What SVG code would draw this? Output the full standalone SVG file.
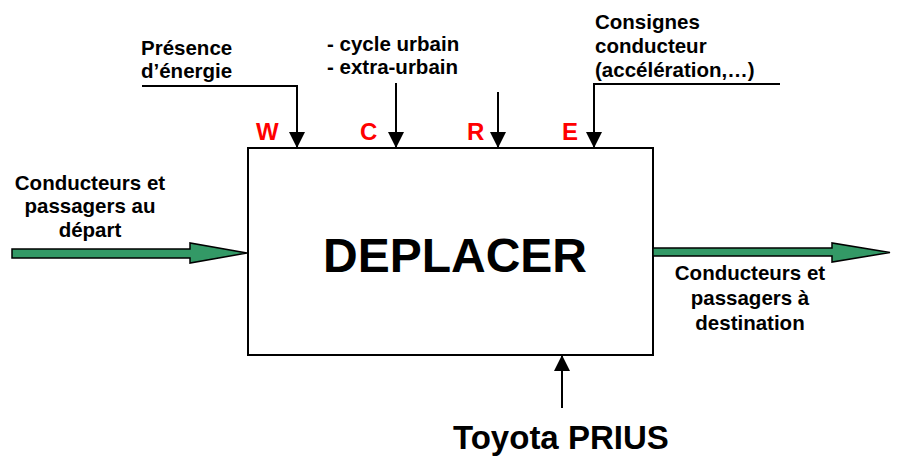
<svg xmlns="http://www.w3.org/2000/svg" width="898" height="456" viewBox="0 0 898 456">
<style>
.lbl{font-family:"Liberation Sans",Arial,sans-serif;font-weight:bold;font-size:20.5px;fill:#000}
.red{font-family:"Liberation Sans",Arial,sans-serif;font-weight:bold;font-size:24px;fill:#ff0000}
.ln{stroke:#000;stroke-width:2;fill:none}
.flow{fill:#339966;stroke:#000;stroke-width:1.5;stroke-linejoin:miter}
</style>
<defs>
<marker id="ah" markerWidth="8" markerHeight="8" refX="8" refY="4" orient="auto" markerUnits="strokeWidth">
<path d="M0,0 L8,4 L0,8 Z" fill="#000"/>
</marker>
</defs>
<rect width="898" height="456" fill="#fff"/>
<g id="box">
<rect x="248" y="148" width="405" height="207" fill="#fff" stroke="#000" stroke-width="2"/>
<text x="455" y="272" text-anchor="middle" style="font-family:'Liberation Sans',Arial,sans-serif;font-weight:bold;font-size:48px">DEPLACER</text>
</g>
<g id="connectors">
<polyline class="ln" points="142,86 297,86 297,148" marker-end="url(#ah)"/>
<line class="ln" x1="396" y1="83" x2="396" y2="148" marker-end="url(#ah)"/>
<line class="ln" x1="498" y1="92" x2="498" y2="148" marker-end="url(#ah)"/>
<polyline class="ln" points="780,84 594,84 594,148" marker-end="url(#ah)"/>
<line class="ln" x1="562" y1="408" x2="562" y2="355" marker-end="url(#ah)"/>
<polygon class="flow" points="12,249 190,249 190,243 247,253 190,263 190,258 12,258"/>
<polygon class="flow" points="653,248 832,248 832,243 890,252.5 832,262 832,256 653,256"/>
</g>
<g id="input">
<text class="lbl" text-anchor="middle"><tspan x="90" y="190">Conducteurs et</tspan><tspan x="90" y="213">passagers au</tspan><tspan x="90" y="237">départ</tspan></text>
</g>
<g id="output">
<text class="lbl" text-anchor="middle"><tspan x="750" y="280">Conducteurs et</tspan><tspan x="750" y="305">passagers à</tspan><tspan x="750" y="330">destination</tspan></text>
</g>
<g id="energy">
<text class="lbl"><tspan x="141" y="55">Présence</tspan><tspan x="141" y="78">d’énergie</tspan></text>
<text class="red" x="256" y="140">W</text>
</g>
<g id="config">
<text class="lbl"><tspan x="327" y="51">- cycle urbain</tspan><tspan x="327" y="74">- extra-urbain</tspan></text>
<text class="red" x="360" y="140">C</text>
</g>
<g id="regulation">
<text class="red" x="467" y="140">R</text>
</g>
<g id="exploitation">
<text class="lbl"><tspan x="595" y="29">Consignes</tspan><tspan x="595" y="53">conducteur</tspan><tspan x="595" y="77">(accélération,…)</tspan></text>
<text class="red" x="562" y="140">E</text>
</g>
<g id="support">
<text x="453" y="449" style="font-family:'Liberation Sans',Arial,sans-serif;font-weight:bold;font-size:33px">Toyota PRIUS</text>
</g>
</svg>
